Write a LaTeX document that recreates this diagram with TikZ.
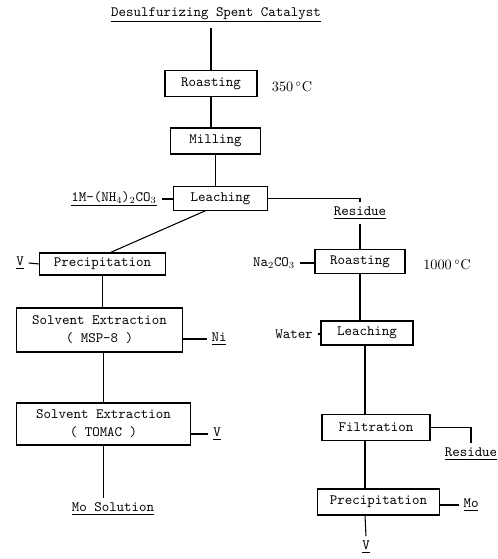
\documentclass[tikz,border=0pt]{standalone}
\usepackage{amsmath}
\usepackage{tikz}
\usetikzlibrary{calc}
\newcommand{\prodLabel}[1]{\underline{#1}}

\begin{document}
\begin{tikzpicture}[x=0.75pt,y=-0.75pt,line width=0.8pt,
    every node/.style={font=\fontsize{10.7}{13.5}\selectfont\ttfamily},
    procbox/.style={draw,rectangle,inner sep=1pt,align=center},
    temp/.style={font=\fontsize{10.7}{13}\selectfont\rmfamily}]

  \useasboundingbox[fill=white] (0,0) rectangle (498,559);

  %feed and first roasting
  \node (feed) at (216,15) {\prodLabel{Desulfurizing Spent Catalyst}};
  \node[procbox,minimum width=69pt,minimum height=20pt] (roast1) at (211,83.5) {Roasting};
  \node[temp] (t1) at (292,87) {350$\,^{\circ}$C};
  \node[procbox,minimum width=68pt,minimum height=19.5pt] (mill) at (215.5,141) {Milling};
  \node[procbox,minimum width=70pt,minimum height=17.5pt] (leach1) at (220.5,198.5) {Leaching};
  \node (nh4) at (114,199) {\prodLabel{1M-(NH$_4$)$_2$CO$_3$}};

  \draw (roast1.north) -- (roast1.north |- feed.south);
  \draw (roast1.south) -- (roast1.south |- mill.north);
  \draw (mill.south) -- (mill.south |- leach1.north);
  \draw (nh4.east) -- (nh4.east -| leach1.west);

  %left branch
  \node[procbox,minimum width=94pt,minimum height=16.5pt] (precip1) at (102.5,264) {Precipitation};
  \node (vout1) at (20,263) {\prodLabel{V}};
  \node[procbox,minimum width=124pt,minimum height=33pt] (solv1) at (99.5,330) {Solvent Extraction\\( MSP-8 )};
  \node (ni) at (219,339) {\prodLabel{Ni}};
  \node[procbox,minimum width=130pt,minimum height=31.5pt] (solv2) at (103.5,424) {Solvent Extraction\\( TOMAC )};
  \node (vout3) at (217,434) {\prodLabel{V}};
  \node (mosol) at (113,509) {\prodLabel{Mo Solution}};

  \draw ($(leach1.south)+(-15,0)$) -- ($(precip1.north)+(8,0)$);
  \draw (vout1.east) -- (precip1.west);
  \draw (precip1.south) -- (precip1.south |- solv1.north);
  \draw (ni.west) -- (ni.west -| solv1.east);
  \draw (solv2.north) -- (solv2.north |- solv1.south);
  \draw (vout3.west) -- (vout3.west -| solv2.east);
  \draw (solv2.south) -- (solv2.south |- mosol.north);

  %right branch
  \node (res1) at (360,213) {\prodLabel{Residue}};
  \node[procbox,minimum width=67.5pt,minimum height=17.5pt] (roast2) at (360,261.5) {Roasting};
  \node (na) at (274,263) {Na$_2$CO$_3$};
  \node[temp] (t2) at (447,265) {1000$\,^{\circ}$C};
  \node[procbox,minimum width=69pt,minimum height=18pt] (leach2) at (367,333) {Leaching};
  \node (water) at (294,334) {Water};
  \node[procbox,minimum width=81pt,minimum height=19pt] (filt) at (376,427.5) {Filtration};
  \node (res2) at (471,454) {\prodLabel{Residue}};
  \node[procbox,minimum width=92pt,minimum height=19.5pt] (precip2) at (378.5,502) {Precipitation};
  \node (mo) at (471,505) {\prodLabel{Mo}};
  \node (vout2) at (366,547) {\prodLabel{V}};
  \coordinate (rcol) at (365,0);

  \draw (leach1.east) -| (res1.north);
  \draw (res1.south) -- (res1.south |- roast2.north);
  \draw (na.east) -- (na.east -| roast2.west);
  \draw (roast2.south) -- (roast2.south |- leach2.north);
  \draw (water.east) -- (water.east -| leach2.west);
  \draw (leach2.south -| rcol) -- (filt.north -| rcol);
  \draw (filt.east) -| (res2.north);
  \draw (filt.south -| rcol) -- (precip2.north -| rcol);
  \draw (mo.west) -- (mo.west -| precip2.east);
  \draw (precip2.south -| rcol) -- (vout2.north);

\end{tikzpicture}
\end{document}
